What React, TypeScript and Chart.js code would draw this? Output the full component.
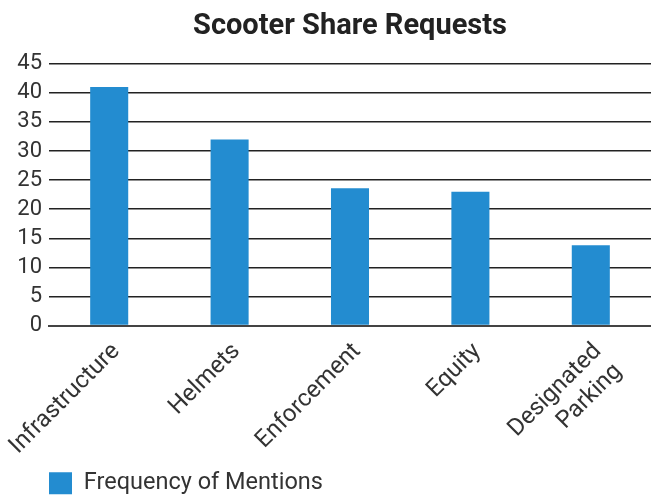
import React, { useEffect, useRef } from "react";
import { Chart, registerables } from "chart.js";

Chart.register(...registerables);

const chartTitle = "Scooter Share Requests";
const seriesLabel = "Frequency of Mentions";
const categories: (string | string[])[] = [
  "Infrastructure",
  "Helmets",
  "Enforcement",
  "Equity",
  ["Designated", "Parking"],
];
const mentions = [41, 32, 23.6, 23, 13.8];
const yMin = 0;
const yMax = 45;
const yStep = 5;

const FONT = "Roboto, 'DejaVu Sans', sans-serif";
const TEXT = "#333333";
const BAR = "#238cd0";

const legendShift = {
  id: "legendShift",
  afterLayout(chart: any) {
    const l = chart.legend;
    if (!l) return;
    const dx = 39;
    const dy = 7;
    l.left += dx;
    l.right += dx;
    l.top += dy;
    l.bottom += dy;
  },
};

export default function App() {
  const ref = useRef<HTMLCanvasElement | null>(null);

  useEffect(() => {
    if (!ref.current) return;
    const chart = new Chart(ref.current, {
      type: "bar",
      data: {
        labels: categories as any,
        datasets: [
          {
            label: seriesLabel,
            data: mentions,
            backgroundColor: BAR,
            borderWidth: 0,
            barPercentage: 0.316,
            categoryPercentage: 1,
          },
        ],
      },
      options: {
        responsive: false,
        animation: false,
        plugins: {
          title: {
            display: true,
            text: chartTitle,
            fullSize: false,
            color: "#222222",
            font: { family: FONT, size: 29, weight: "bold" },
            padding: { top: 9, bottom: 20 },
          },
          legend: {
            display: true,
            position: "bottom",
            align: "start",
            labels: {
              boxWidth: 23,
              boxHeight: 22,
              color: TEXT,
              font: { family: FONT, size: 23.5 },
              padding: 10,
            },
          },
          tooltip: { enabled: false },
        },
        scales: {
          x: {
            z: 1,
            grid: { display: false },
            border: { display: true, color: "#444444", width: 2 },
            ticks: {
              color: TEXT,
              font: { family: FONT, size: 24 },
              minRotation: 45,
              maxRotation: 45,
              autoSkip: false,
              padding: 4,
              labelOffset: 7,
            },
            afterFit: (scale: any) => {
              scale.height = 129;
              scale.paddingRight = 0;
              scale.paddingLeft = 0;
            },
          },
          y: {
            min: yMin,
            max: yMax,
            grid: { color: "#222222", lineWidth: 1.5, drawTicks: false },
            border: { display: false },
            ticks: {
              stepSize: yStep,
              autoSkip: false,
              color: TEXT,
              font: { family: FONT, size: 22 },
              padding: 7,
            },
            afterFit: (scale: any) => {
              scale.width = 49;
            },
          },
        },
      },
      plugins: [legendShift],
    });
    return () => chart.destroy();
  }, []);

  return (
    <div style={{ position: "absolute", left: 0, top: 0, width: 651, height: 498, background: "#fff" }}>
      <canvas ref={ref} width={651} height={498} style={{ width: 651, height: 498, display: "block" }} />
    </div>
  );
}
